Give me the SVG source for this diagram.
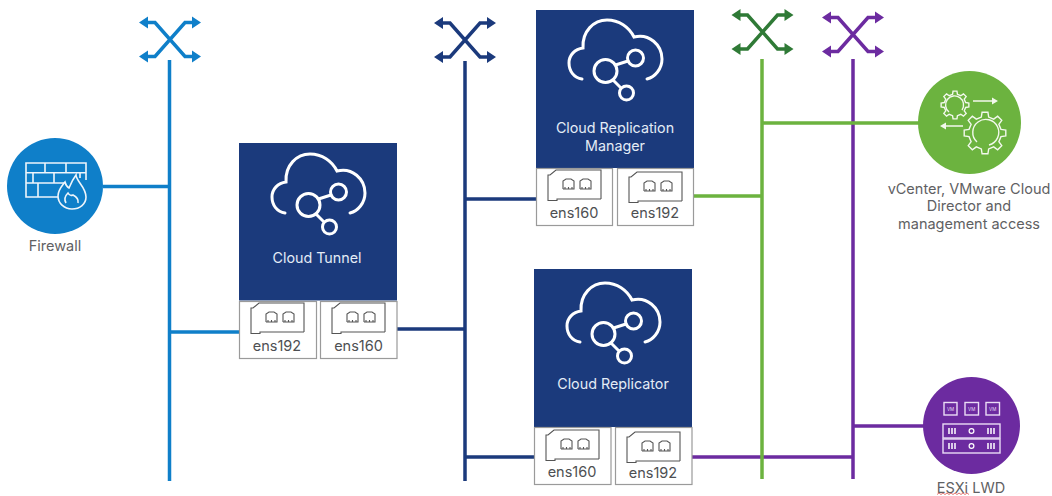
<svg xmlns="http://www.w3.org/2000/svg" xmlns:xlink="http://www.w3.org/1999/xlink" width="1052" height="496" viewBox="0 0 1052 496">
<style>
text{font-family:"Inter","Open Sans","Liberation Sans",sans-serif;text-anchor:middle}
.lbl{font-size:14.5px;fill:#5f6163}
.nm{font-size:14.3px;fill:#e4ecf6}
.pt{font-size:14.5px;fill:#4d4f52}
.box{fill:#1b3a7c}
.port{fill:#fff;stroke:#9a9a9a;stroke-width:1.2}
.ln{fill:none;stroke-width:3.5}
.ic{fill:none;stroke:#eef5fb;stroke-width:1.6}
.cl{fill:none;stroke:#fff;stroke-width:3;stroke-linecap:round}
.cd{fill:none;stroke:#555;stroke-width:1.1}
.blue{stroke:#0f7fc9}.navy{stroke:#1b3a7c}.green{stroke:#6cb33f}.purple{stroke:#6c2ba0}
</style>
<defs>
<g id="sw">
<path fill="none" stroke="currentColor" stroke-width="3.500" d="M-24,-17H-15L15,17H24M-24,17H-15L15,-17H24"/>
<path fill="currentColor" d="M-31,-17L-22,-23V-11ZM31,-17L22,-23V-11ZM-31,17L-22,11V23ZM31,17L22,11V23Z"/>
</g>
<g id="cloud">
<path class="cl" d="M46,70C38,69 33,62 33,54C33,46 39,40 47,39C46,22 58,11 71,11C83,11 93,18 98,28C113,24 126,36 126,50C126,60 119,68 111,70"/>
<circle class="cl" cx="69.500" cy="62" r="11.500"/>
<circle class="cl" cx="99.500" cy="49" r="8"/>
<circle class="cl" cx="90.500" cy="84" r="7"/>
<path class="cl" d="M79.500,56L92,52M77,71L85,79"/>
</g>
<g id="card">
<path class="cd" d="M65,31V2H20L14,7H12V32.500H21V31H65"/>
<path class="cd" d="M27,21V13L30,11H35L38,13V21H27M29,21V19M32.500,21V19M36,21V19M44,21V13L47,11H52L55,13V21H44M46,21V19M49.500,21V19M53,21V19"/>
</g>
<polygon id="gear" vector-effect="non-scaling-stroke" points=".76,-.175 .99,-.139 .99,.139 .76,.175 .661,.414 .798,.602 .602,.798 .414,.661 .175,.76 .139,.99 -.139,.99 -.175,.76 -.414,.661 -.602,.798 -.798,.602 -.661,.414 -.76,.175 -.99,.139 -.99,-.139 -.76,-.175 -.661,-.414 -.798,-.602 -.602,-.798 -.414,-.661 -.175,-.76 -.139,-.99 .139,-.99 .175,-.76 .414,-.661 .602,-.798 .798,-.602 .661,-.414"/>
<g id="srv">
<rect x="0" y="0" width="57" height="14" fill="none" stroke="#eadcf5" stroke-width="1.400"/>
<path d="M6,4V10M9,4V10M12,4V10M45,4V10M48,4V10M51,4V10" stroke="#fff" stroke-width="1.500"/>
<circle cx="28.500" cy="7" r="2.400" fill="none" stroke="#fff" stroke-width="1.200"/>
</g>
</defs>
<rect width="1052" height="496" fill="#fff"/>

<g id="connectors">
<path class="ln blue" d="M169.500,60V481M103,186.500H169.500M169.500,332H239"/>
<path class="ln navy" d="M465,61V481M397,329H465M465,199H536M465,457H534"/>
<path class="ln purple" d="M853,59V479M692,457H853M853,426H925"/>
<path class="ln green" d="M762,59V479M694,196H762M762,123H920"/>
</g>

<g id="switch-blue" color="#0f7fc9" transform="translate(170,39.500)"><use href="#sw"/></g>
<g id="switch-navy" color="#1b3a7c" transform="translate(465,40)"><use href="#sw"/></g>
<g id="switch-green" color="#2f7a36" transform="translate(762.500,32)"><use href="#sw"/></g>
<g id="switch-purple" color="#6c2ba0" transform="translate(853,34.500)"><use href="#sw"/></g>

<g id="firewall">
<circle cx="55" cy="186" r="48" fill="#0f7fc9"/>
<path class="ic" d="M72,197H26V163H86V180M26,172.700H86M26,183H64M45,163V172.700M66,163V172.700M33,172.700V183M54,172.700V183M38,183V197M80,172.700V178"/>
<path d="M72,209C64,209 58,203 58,196C58,190 62,186 65,182C66,186 67,187 69,188C71,183 73,179 76,175C76,181 86,187 86,197C86,204 80,209 72,209Z" fill="#0f7fc9" stroke="#eef5fb" stroke-width="1.600"/>
<path class="ic" d="M66,203C63,198 67,194 68,193C69,195 71,196 73,195C75,196 79,198 78,203"/>
<text class="lbl" x="55" y="251">Firewall</text>
</g>

<g id="cloud-tunnel">
<rect class="box" x="239" y="143" width="158" height="157.500"/>
<use href="#cloud" transform="translate(239,143)"/>
<text class="nm" x="317" y="263">Cloud Tunnel</text>
<rect class="port" x="239.500" y="301.500" width="77" height="57"/>
<rect class="port" x="320.500" y="301.500" width="76.500" height="57"/>
<use href="#card" transform="translate(239,301)"/>
<use href="#card" transform="translate(320,301)"/>
<text class="pt" x="277" y="351">ens192</text>
<text class="pt" x="358.500" y="351">ens160</text>
</g>

<g id="cloud-replication-manager">
<rect class="box" x="536" y="10" width="158" height="158"/>
<use href="#cloud" transform="translate(536,9)"/>
<text class="nm" x="615" y="133">Cloud Replication</text>
<text class="nm" x="615" y="151">Manager</text>
<rect class="port" x="536.500" y="168.500" width="76" height="57"/>
<rect class="port" x="617.500" y="168.500" width="76" height="57"/>
<use href="#card" transform="translate(536,168)"/>
<use href="#card" transform="translate(617,170)"/>
<text class="pt" x="574" y="218">ens160</text>
<text class="pt" x="655" y="218">ens192</text>
</g>

<g id="cloud-replicator">
<rect class="box" x="534" y="269" width="158" height="158"/>
<use href="#cloud" transform="translate(534,272)"/>
<text class="nm" x="613" y="389">Cloud Replicator</text>
<rect class="port" x="534.500" y="427.500" width="76.500" height="57"/>
<rect class="port" x="615.500" y="427.500" width="76.500" height="57"/>
<use href="#card" transform="translate(534,428)"/>
<use href="#card" transform="translate(615,430)"/>
<text class="pt" x="572" y="477">ens160</text>
<text class="pt" x="653" y="478">ens192</text>
</g>

<g id="vcenter">
<circle cx="969.500" cy="122.500" r="51.500" fill="#6cb33f"/>
<g fill="none" stroke="#f2f8ec" stroke-width="1.400">
<use href="#gear" transform="translate(955,105) scale(14)"/>
<use href="#gear" transform="translate(985,133) scale(21)"/>
<path d="M949,112A9,9 0 1 1 962,110M977,142A13,13 0 1 1 989,145"/>
<path d="M973,101H995M963,126H942"/>
</g>
<path fill="#f2f8ec" d="M998,101L992,97.500V104.500ZM940,126L946,122.500V129.500Z"/>
<text class="lbl" x="969" y="194">vCenter, VMware Cloud</text>
<text class="lbl" x="969" y="211">Director and</text>
<text class="lbl" x="969" y="229">management access</text>
</g>

<g id="esxi">
<circle cx="971.500" cy="425.500" r="48.500" fill="#6c2ba0"/>
<g fill="none" stroke="#eadcf5" stroke-width="1.400">
<rect x="944" y="402.500" width="13" height="12.500"/>
<rect x="965" y="402.500" width="13.500" height="12.500"/>
<rect x="986" y="402.500" width="13.500" height="12.500"/>
</g>
<g fill="#eadcf5" style="font-size:4.500px">
<text x="950.500" y="410.500">VM</text>
<text x="971.700" y="410.500">VM</text>
<text x="992.700" y="410.500">VM</text>
</g>
<use href="#srv" transform="translate(943,424)"/>
<use href="#srv" transform="translate(943,439)"/>
<text class="lbl" x="971" y="493">ESXi LWD</text>
<path d="M937,494.500l2,-1.500l2,1.500l2,-1.500l2,1.500l2,-1.500l2,1.500l2,-1.500l2,1.500l2,-1.500l2,1.500l2,-1.500l2,1.500l2,-1.500l2,1.500l2,-1.500l2,1.500" fill="none" stroke="#d9534f" stroke-width=".8"/>
</g>
</svg>
